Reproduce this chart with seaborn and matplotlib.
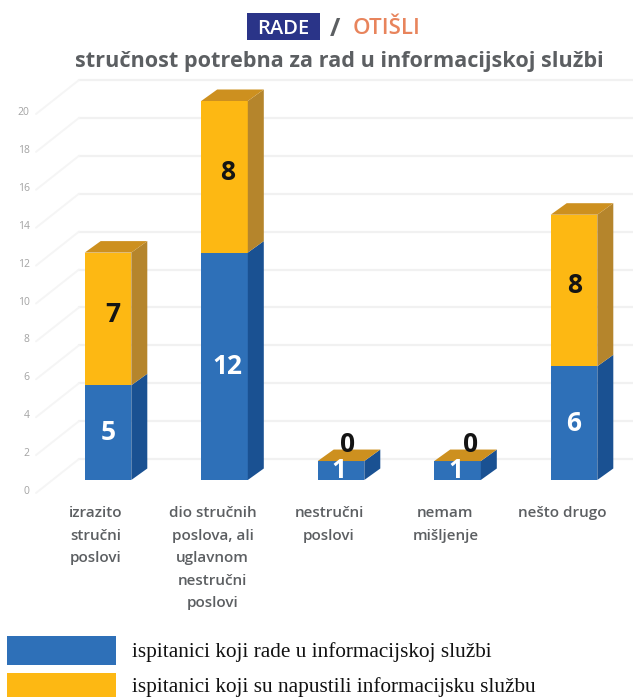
import matplotlib
matplotlib.use("Agg")
import matplotlib.pyplot as plt
import matplotlib.transforms as mtrans
from matplotlib.patches import Polygon, Rectangle
import seaborn as sns

categories = ["izrazito\nstručni\nposlovi",
              "dio stručnih\nposlova, ali\nuglavnom\nnestručni\nposlovi",
              "nestručni\nposlovi",
              "nemam\nmišljenje",
              "nešto drugo"]
rade = [5, 12, 1, 1, 6]
otisli = [7, 8, 0, 0, 8]
y_ticks = list(range(0, 21, 2))

BLUE, BLUE_SIDE = "#2e70b8", "#1a5192"
YELLOW, YELLOW_SIDE, YELLOW_TOP = "#fdb813", "#b5852c", "#cd901f"
GRID = "#f1f1f1"
TEXT = "#5c5f62"
SANS = "Open Sans"

W, H = 633, 697
sns.set_theme(style="white")
plt.rcParams["font.family"] = [SANS, "DejaVu Sans"]

fig = plt.figure(figsize=(W / 100, H / 100), dpi=100, facecolor="white")
AX_L, AX_R, AX_T, AX_B = 38, 633, 60, 480
ax = fig.add_axes([AX_L / W, 1 - AX_B / H, (AX_R - AX_L) / W, (AX_B - AX_T) / H])

# one category step is 116.5 px, one value unit is 18.95 px
PX_X, PX_Y = 116.5, 18.95
ax.set_xlim((AX_L - 108) / PX_X, (AX_R - 108) / PX_X)
ax.set_ylim(0, (AX_B - AX_T) / PX_Y)

DEPTH_X, DEPTH_Y = 16 / PX_X, 11.5 / PX_Y
WALL_RISE = 21 / PX_Y
WALL_X0 = (79 - 108) / PX_X
FLOOR_X0, FLOOR_DROP = (36 - 108) / PX_X, 13 / PX_Y

# back wall gridlines and the diagonals running forward from them
for v in y_ticks:
    ax.plot([WALL_X0, 6], [v + WALL_RISE] * 2, color=GRID, lw=1.6, zorder=1, clip_on=False)
    ax.plot([FLOOR_X0, WALL_X0], [v - FLOOR_DROP, v + WALL_RISE], color="#f5f5f5",
            lw=1.4, zorder=1, clip_on=False)

positions = list(range(len(categories)))
sns.barplot(x=positions, y=rade, color=BLUE, saturation=1, width=0.4, ax=ax,
            order=positions, zorder=3, linewidth=0)
n_blue = len(ax.patches)
sns.barplot(x=positions, y=otisli, bottom=rade, color=YELLOW, saturation=1, width=0.4, ax=ax,
            order=positions, zorder=3, linewidth=0)

ax.set_xlim((AX_L - 108) / PX_X, (AX_R - 108) / PX_X)
ax.set_ylim(0, (AX_B - AX_T) / PX_Y)

# extruded side and top faces, taken from the geometry of each drawn bar
for i, bar in enumerate(ax.patches[:]):
    x1 = bar.get_x() + bar.get_width()
    x0 = bar.get_x()
    y0, y1 = bar.get_y(), bar.get_y() + bar.get_height()
    side = BLUE_SIDE if i < n_blue else YELLOW_SIDE
    ax.add_patch(Polygon([(x1, y0), (x1 + DEPTH_X, y0 + DEPTH_Y),
                          (x1 + DEPTH_X, y1 + DEPTH_Y), (x1, y1)],
                         facecolor=side, edgecolor="none", zorder=3))
    if i >= n_blue:
        ax.add_patch(Polygon([(x0, y1), (x1, y1), (x1 + DEPTH_X, y1 + DEPTH_Y),
                              (x0 + DEPTH_X, y1 + DEPTH_Y)],
                             facecolor=YELLOW_TOP, edgecolor="none", zorder=3))

# value labels
label_style = dict(ha="center", va="center", fontsize=19, fontweight="bold", zorder=5)
rade_shift = [0, 3, -2, -2, 0]
otisli_shift = [5, 3, 7, 13, 1]
for i, (a, b) in enumerate(zip(rade, otisli)):
    ax.text(i + rade_shift[i] / PX_X, a / 2, str(a), color="white", **label_style)
    y = a + 0.85 if b == 0 else a + b / 2 + 0.25
    ax.text(i + otisli_shift[i] / PX_X, y, str(b), color="#141414", **label_style)

# axes
ax.set_xticks(positions)
ax.set_xticklabels(categories, fontsize=11, fontweight="semibold", color=TEXT, linespacing=1.77)
ax.set_yticks(y_ticks)
ax.set_yticklabels([str(v) for v in y_ticks], fontsize=7.5, color="#a3a3a3")
ax.tick_params(axis="x", length=0, pad=19)
ax.tick_params(axis="y", length=0, pad=6)
shift_x = mtrans.ScaledTranslation(-12 / 100, 0, fig.dpi_scale_trans)
shift_y = mtrans.ScaledTranslation(0, -10 / 100, fig.dpi_scale_trans)
for lab in ax.get_xticklabels():
    lab.set_transform(lab.get_transform() + shift_x)
for lab in ax.get_yticklabels():
    lab.set_transform(lab.get_transform() + shift_y)
for s in ax.spines.values():
    s.set_visible(False)
ax.patch.set_alpha(0)
ax.grid(False)


def fx(px):
    return px / W


def fy(py):
    return 1 - py / H


# heading
fig.patches.append(Rectangle((fx(247), fy(40)), 73 / W, 27 / H, transform=fig.transFigure,
                             facecolor="#2a3488", edgecolor="none"))
fig.text(fx(283.5), fy(29), "RADE", color="white", fontsize=14.5, fontweight="semibold",
         ha="center", va="center")
fig.text(fx(335), fy(29), "/", color=TEXT, fontsize=18, fontweight="bold", ha="center", va="center")
fig.text(fx(353), fy(29), "OTIŠLI", color="#e8845c", fontsize=16, fontweight="semibold",
         ha="left", va="center")
fig.text(fx(339), fy(61), "stručnost potrebna za rad u informacijskoj službi", color=TEXT,
         fontsize=15.55, fontweight="bold", ha="center", va="center")

# key below the plot
legend_rows = [(BLUE, 636, 29, "ispitanici koji rade u informacijskoj službi", 652),
               (YELLOW, 673, 24, "ispitanici koji su napustili informacijsku službu", 687)]
for color, top, height, label, text_y in legend_rows:
    fig.patches.append(Rectangle((fx(7), fy(top + height)), 109 / W, height / H,
                                 transform=fig.transFigure, facecolor=color, edgecolor="none"))
    fig.text(fx(132), fy(text_y), label, color="#111111", fontsize=15.3,
             family=["Liberation Serif"], ha="left", va="center")

fig.savefig("out.png", dpi=100)
